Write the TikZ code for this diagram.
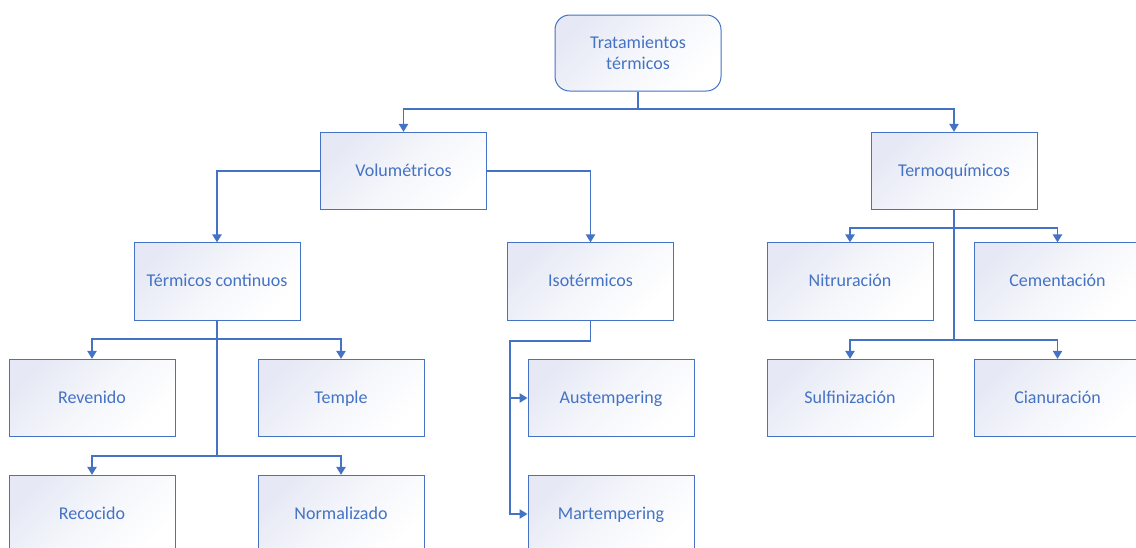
\documentclass[tikz,border=0pt]{standalone}
\usepackage{fontspec}
\setmainfont{Carlito}
\usetikzlibrary{arrows.meta}
\definecolor{offblue}{HTML}{4472C4}
\definecolor{boxshade}{HTML}{E6E9F5}
\begin{document}
\begin{tikzpicture}[x=0.75pt,y=-0.75pt, every node/.style={font=\fontsize{13.5}{15.5}\selectfont,text=offblue},
  box/.style={draw=offblue,line width=0.75pt,top color=boxshade,bottom color=white,middle color=white!60!boxshade,shading angle=45,
    minimum width=124.5pt,minimum height=58pt,align=center,inner sep=0pt},
  leaf/.style={box,text height=2.15ex,text depth=0.45ex},
  link/.style={draw=offblue,line width=1.1pt},
  arr/.style={link,-{Triangle[width=7pt,length=6pt]}}]
\useasboundingbox (0,0) rectangle (1136,547);
\node[box,rounded corners=11pt,minimum height=57pt] (trat) at (638,53) {Tratamientos\\térmicos};
\node[leaf] (vol) at (403.5,171) {Volumétricos};
\node[leaf] (termo) at (954,171) {Termoquímicos};
\node[leaf] (tcont) at (217,281.5) {Térmicos continuos};
\node[leaf] (iso) at (590.5,281.5) {Isotérmicos};
\node[leaf] (nit) at (850,281.5) {Nitruración};
\node[leaf] (cem) at (1057.5,281.5) {Cementación};
\node[leaf] (rev) at (92,398) {Revenido};
\node[leaf] (temp) at (341,398) {Temple};
\node[leaf] (aust) at (611,398) {Austempering};
\node[leaf] (sulf) at (850,398) {Sulfinización};
\node[leaf] (cian) at (1057.5,398) {Cianuración};
\node[leaf] (reco) at (92,514) {Recocido};
\node[leaf] (norm) at (341,514) {Normalizado};
\node[leaf] (mart) at (611,514) {Martempering};
% top level
\coordinate (t1) at (638,109);
\draw[arr] (trat.south) -- (t1) -| (vol.north);
\draw[arr] (t1) -| (termo.north);
% volumetricos
\draw[arr] (vol.west) -| (tcont.north);
\draw[arr] (vol.east) -| (iso.north);
% termicos continuos
\coordinate (c1) at (217,339); \coordinate (c2) at (217,456);
\draw[arr] (tcont.south) -- (c1) -| (rev.north); \draw[arr] (c1) -| (temp.north);
\draw[arr] (c1) -- (c2) -| (reco.north); \draw[arr] (c2) -| (norm.north);
% isotermicos
\coordinate (i1) at (510,341); \coordinate (i2) at (510,398);
\draw[arr] (iso.south) |- (i1) -- (i2) -- (aust.west);
\draw[arr] (i2) |- (mart.west);
% termoquimicos
\coordinate (q1) at (954,228); \coordinate (q2) at (954,340);
\draw[arr] (termo.south) -- (q1) -| (nit.north); \draw[arr] (q1) -| (cem.north);
\draw[arr] (q1) -- (q2) -| (sulf.north); \draw[arr] (q2) -| (cian.north);
\end{tikzpicture}
\end{document}
